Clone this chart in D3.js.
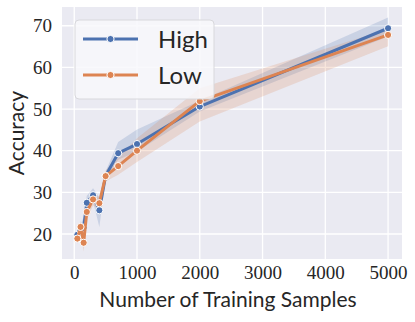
<!DOCTYPE html>
<html>
<head>
<meta charset="utf-8">
<script src="https://cdn.jsdelivr.net/npm/d3@7"></script>
<style>
  body { margin: 0; background: #fff; }
  svg { display: block; }
</style>
</head>
<body>
<div id="chart"></div>
<script>
// Data
const samples = [50, 100, 150, 200, 300, 400, 500, 700, 1000, 2000, 5000];

const highMean  = [19.8, 20.8, 21.5, 27.5, 29.3, 25.7, 34.0, 39.4, 41.6, 50.6, 69.4];
const highLower = [18.6, 19.6, 20.0, 25.8, 27.8, 21.7, 33.0, 37.8, 39.8, 49.4, 67.4];
const highUpper = [21.0, 22.2, 24.0, 29.2, 31.0, 28.8, 35.0, 42.1, 45.1, 52.0, 72.0];

const lowMean  = [18.9, 21.7, 17.9, 25.3, 28.3, 27.4, 33.9, 36.3, 40.0, 51.9, 67.8];
const lowLower = [17.6, 20.2, 15.8, 23.6, 26.8, 26.0, 32.6, 34.2, 37.3, 47.0, 65.1];
const lowUpper = [20.2, 23.2, 19.6, 27.0, 29.8, 28.9, 35.3, 38.4, 43.0, 55.0, 69.2];

const xTicks = [0, 1000, 2000, 3000, 4000, 5000];
const yTicks = [20, 30, 40, 50, 60, 70];

const seriesNames = ['High', 'Low'];
const seriesColors = ['#4C72B0', '#DD8452'];

// Layout
const width = 415, height = 322;
const margin = { top: 7, right: 13, bottom: 63, left: 62 };
const plotW = width - margin.left - margin.right;
const plotH = height - margin.top - margin.bottom;

const labelFont = "Lato, 'DejaVu Sans', sans-serif";
const tickFont = "'Liberation Serif', 'DejaVu Serif', serif";

const svg = d3.select('#chart')
  .append('svg')
  .attr('width', width)
  .attr('height', height);

const g = svg.append('g')
  .attr('transform', `translate(${margin.left},${margin.top})`);

const x = d3.scaleLinear().domain([-195, 5222]).range([0, plotW]);
const y = d3.scaleLinear().domain([14.0, 74.5]).range([plotH, 0]);

// Background
g.append('rect')
  .attr('width', plotW)
  .attr('height', plotH)
  .attr('fill', '#EAEAF2');

// Grid
g.append('g')
  .selectAll('line')
  .data(xTicks)
  .join('line')
  .attr('x1', d => x(d)).attr('x2', d => x(d))
  .attr('y1', 0).attr('y2', plotH)
  .attr('stroke', '#fff')
  .attr('stroke-width', 1.3);

g.append('g')
  .selectAll('line')
  .data(yTicks)
  .join('line')
  .attr('x1', 0).attr('x2', plotW)
  .attr('y1', d => y(d)).attr('y2', d => y(d))
  .attr('stroke', '#fff')
  .attr('stroke-width', 1.3);

// Axes (labels only, no spines)
const xAxis = g.append('g')
  .attr('transform', `translate(0,${plotH})`)
  .call(d3.axisBottom(x).tickValues(xTicks).tickSize(0).tickPadding(7).tickFormat(d3.format('d')));
xAxis.select('.domain').remove();
xAxis.selectAll('text')
  .attr('fill', '#262626')
  .style('font-family', tickFont)
  .style('font-size', '19px');

const yAxis = g.append('g')
  .call(d3.axisLeft(y).tickValues(yTicks).tickSize(0).tickPadding(10));
yAxis.select('.domain').remove();
yAxis.selectAll('text')
  .attr('fill', '#262626')
  .style('font-family', tickFont)
  .style('font-size', '19px');

// Series
const series = [
  { name: seriesNames[0], color: seriesColors[0], mean: highMean, lo: highLower, hi: highUpper },
  { name: seriesNames[1], color: seriesColors[1], mean: lowMean, lo: lowLower, hi: lowUpper },
];

const area = d3.area()
  .x((d, i) => x(samples[i]))
  .y0(d => y(d[0]))
  .y1(d => y(d[1]));

const line = d3.line()
  .x((d, i) => x(samples[i]))
  .y(d => y(d));

series.forEach(s => {
  g.append('path')
    .datum(s.lo.map((v, i) => [v, s.hi[i]]))
    .attr('fill', s.color)
    .attr('fill-opacity', 0.2)
    .attr('d', area);
});

series.forEach(s => {
  g.append('path')
    .datum(s.mean)
    .attr('fill', 'none')
    .attr('stroke', s.color)
    .attr('stroke-width', 3)
    .attr('stroke-linejoin', 'round')
    .attr('d', line);

  g.append('g')
    .selectAll('circle')
    .data(s.mean)
    .join('circle')
    .attr('cx', (d, i) => x(samples[i]))
    .attr('cy', d => y(d))
    .attr('r', 3.6)
    .attr('fill', s.color)
    .attr('stroke', '#fff')
    .attr('stroke-width', 1);
});

// Legend
const legend = g.append('g')
  .attr('transform', `translate(${75 - margin.left},${20 - margin.top})`);

legend.append('rect')
  .attr('width', 139)
  .attr('height', 79)
  .attr('rx', 4)
  .attr('fill', '#F8F8FB')
  .attr('fill-opacity', 0.85)
  .attr('stroke', '#D8D8DC')
  .attr('stroke-width', 1);

series.forEach((s, i) => {
  const row = legend.append('g').attr('transform', `translate(0,${19 + i * 36})`);
  row.append('line')
    .attr('x1', 8).attr('x2', 63)
    .attr('stroke', s.color)
    .attr('stroke-width', 3);
  row.append('circle')
    .attr('cx', 35.5)
    .attr('r', 3.6)
    .attr('fill', s.color)
    .attr('stroke', '#fff')
    .attr('stroke-width', 1);
  row.append('text')
    .attr('x', 83)
    .attr('y', 9)
    .attr('fill', '#262626')
    .style('font-family', labelFont)
    .style('font-size', '24px')
    .text(s.name);
});

// Axis titles
svg.append('text')
  .attr('x', margin.left + plotW / 2 - 4)
  .attr('y', 307)
  .attr('text-anchor', 'middle')
  .attr('fill', '#262626')
  .style('font-family', labelFont)
  .style('font-size', '21px')
  .text('Number of Training Samples');

svg.append('text')
  .attr('transform', `translate(24,${margin.top + plotH / 2}) rotate(-90)`)
  .attr('text-anchor', 'middle')
  .attr('fill', '#262626')
  .style('font-family', labelFont)
  .style('font-size', '21px')
  .text('Accuracy');
</script>
</body>
</html>
